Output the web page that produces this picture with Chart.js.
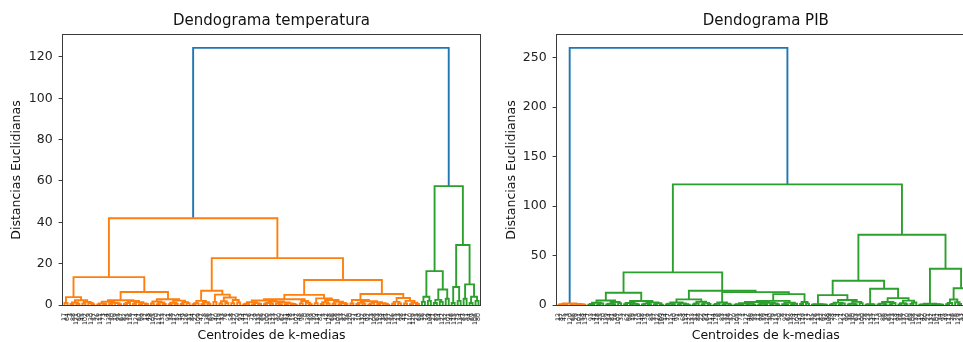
<!DOCTYPE html>
<html>
<head>
<meta charset="utf-8">
<title>Dendogramas</title>
<script src="https://cdn.jsdelivr.net/npm/chart.js@4.4.1/dist/chart.umd.min.js"></script>
<style>
  html, body { margin: 0; padding: 0; background: #fff; }
  body { width: 963px; height: 342px; position: relative; overflow: hidden; }
  canvas { position: absolute; top: 0; }
  #tempChart { left: 0; }
  #pibChart { left: 480px; }
</style>
</head>
<body>
<canvas id="tempChart" width="490" height="342"></canvas>
<canvas id="pibChart" width="520" height="342"></canvas>
<script>
// Each node is [height, left, right]; a leaf is the centroid index shown under the axis.

// --- Dendograma temperatura ---
const tempTopHeight = 124.4;
const tempOrangeHeight = 42;
const tempOrangeLeft = [13.5,
  [3.8, [1.0, 17, 64], [2.3, [1.2, [0.5, 3, 88], [0.6, 121, 60]], [1.5, [0.7, 45, 102], [1.0, 9, [0.4, 130, 57]]]]],
  [6.3,
    [2.3,
      [1.6, [0.8, [0.3, 26, 111], [0.5, 73, 4]], [1.1, [0.6, 138, 50], [0.9, 19, [0.4, 95, 67]]]],
      [1.9, [1.0, [0.5, 82, 35], 116], [1.3, [0.6, 7, 124], [0.8, [0.3, 61, 99], [0.5, 12, 43]]]]],
    [2.8,
      [1.7, [0.7, 28, 105], [1.2, [0.4, 70, 112], [0.5, 133, 2]]],
      [2.1, [1.1, [0.4, 91, 38], [0.6, 117, 55]], [1.4, [0.5, 14, 79], [0.9, 126, 31]]]]]];
const tempOrangeRight = [22.7,
  [6.9,
    [2.0, [0.9, [0.4, 84, 22], 109], [1.3, [0.5, 47, 8], [0.6, 136, 65]]],
    [5.0, [1.5, 97, 40], [3.6, [1.8, [0.7, 119, 33], [1.0, 76, 1]], [2.4, [0.9, 58, 127], [1.2, 20, 93]]]]],
  [12.1,
    [4.9,
      [2.8,
        [2.2, [1.4, [0.6, [0.3, 44, 113], 6], [0.9, [0.4, 71, 29], [0.5, 135, 86]]],
              [1.7, [1.0, [0.5, 52, 100], [0.6, 15, 123]], [1.2, [0.7, 37, [0.3, 90, 62]], [0.8, [0.4, 131, 24], [0.5, 78, [0.2, 11, 107]]]]]],
        [1.9, [0.8, 48, 96], [1.1, 0, [0.4, 139, 59]]]],
      [3.2, [0.9, 30, 114], [2.4, [1.3, [0.5, 81, 5], [0.7, 42, 128]], [1.6, [0.6, 66, 18], [1.0, [0.4, 103, 53], [0.5, 87, 36]]]]]],
    [5.3,
      [2.4, [0.7, 120, 27], [1.8, [1.1, [0.5, 74, 10], [0.6, 132, 49]], [1.4, [0.8, [0.3, 92, 23], 108], [0.9, [0.5, 63, 118], [0.6, 34, [0.2, 85, 137]]]]]],
      [3.4, [1.5, [0.6, 56, 125], [0.8, 13, 98]], [2.0, [0.7, 41, 77], [1.1, [0.4, 110, 129], [0.5, 25, 68]]]]]]];
const tempGreen = [57.5,
  [16.4, [4.0, [1.5, 16, 72], [2.0, 39, 104]], [7.5, [2.5, [1.0, 21, 89], [1.5, 54, 122]], [3.0, 32, 101]]],
  [29.0, [8.7, [1.0, 46, 115], [2.0, 75, 134]], [10.0, [3.0, 83, 51], [4.0, [1.0, 94, 69], [2.0, 106, 80]]]]];
const tempYTicks = [0, 20, 40, 60, 80, 100, 120];

// --- Dendograma PIB ---
const pibTopHeight = 260;
const pibGreenHeight = 122;
const pibOrange = [1.6, [0.8, [0.3, 12, 87], [0.5, 45, 3]], [1.1, [0.4, 120, 66], [0.7, [0.3, 29, 101], [0.2, 58, 134]]]];
const pibGreenLeft = [33,
  [12.4,
    [4.5, [2.2, [1.0, [0.4, 7, 93], 41], [1.5, [0.6, 118, 25], 70]], [3.1, [1.3, [0.5, 139, 54], [0.7, 81, 16]], [1.8, 107, 33]]],
    [4.0, [2.0, [0.9, 2, 62], [1.2, [0.5, 96, 19], [0.6, 75, 110]]], [2.7, [1.4, [0.6, 48, 131], [0.8, 9, 85]], [1.7, [0.7, 37, 122], [0.4, 60, 103]]]]],
  [14.4,
    [5.7,
      [2.6, [1.2, [0.5, 14, 77], [0.7, 125, 40]], [1.6, [0.6, 91, 5], [0.9, 68, [0.3, 114, 27]]]],
      [3.3, [1.5, [0.5, 133, 51], 88], [2.1, [0.8, 22, 99], [1.0, 64, 117]]]],
    [13.0,
      [2.5, [1.1, [0.4, 44, 128], 6], [1.4, [0.6, 83, 31], [0.5, 136, 57]]],
      [11.0,
        [4.2,
          [3.0, [1.8, [0.9, [0.4, 20, 105], [0.5, 73, 1]], [1.1, [0.6, 127, 46], [0.3, 89, 35]]],
                [2.3, [1.2, [0.5, 11, 98], [0.7, 59, 124]], [1.5, [0.8, 30, 79], [0.6, 115, 50]]]],
          [2.2, [0.9, 8, [0.4, 92, 67]], [1.3, [0.5, 138, 24], 104]]],
        [3.0, [1.0, 43, 119], [1.4, 71, 17]]]]]];
const pibGreenRight = [71,
  [24.5,
    [10.0,
      [0.9, [0.4, 55, 126], [0.6, [0.2, 13, 82], [0.3, 97, 38]]],
      [5.0, [2.4, [1.1, [0.4, 109, 28], 74], [1.5, [0.6, 4, 121], 52]], [3.2, [1.3, [0.5, 90, 36], [0.7, 130, 63]], [1.9, 15, 100]]]],
    [16.4,
      [0.8, [0.3, 78, 23], [0.5, 135, 47]],
      [7.0, [3.1, [1.4, [0.5, 113, 0], [0.7, 86, 39]], [2.0, [0.8, 65, 123], 18]], [4.4, [1.8, [0.6, 94, 56], [0.9, 137, 10]], [2.6, [1.1, 69, 108], 32]]]]],
  [36.6,
    [1.2, [0.5, [0.2, 116, 42], [0.3, 80, 21]], [0.8, [0.4, 132, 61], [0.6, 102, [0.2, 34, 95]]]],
    [17.0, [5.5, [2.0, [0.8, 49, 111], 26], [2.8, 76, [1.0, 129, 53]]], [8.0, [3.0, 84, 112], [4.2, 72, 106]]]]];
const pibYTicks = [0, 50, 100, 150, 200, 250];

const topColor = '#1f77b4';
const clusterColors = ['#ff7f0e', '#2ca02c'];

Chart.defaults.font.family = "'DejaVu Sans', sans-serif";
Chart.defaults.color = '#222';

// places leaves 10 units apart like scipy does and collects the U-shaped links
function layoutTree(node, color, out) {
  if (!Array.isArray(node)) {
    const x = 5 + 10 * out.labels.length;
    out.labels.push(String(node));
    out.ticks.push(x);
    return { x: x, y: 0 };
  }
  const left = layoutTree(node[1], color, out);
  const right = layoutTree(node[2], color, out);
  const h = node[0];
  out.links.push({
    color: color,
    points: [{ x: left.x, y: left.y }, { x: left.x, y: h }, { x: right.x, y: h }, { x: right.x, y: right.y }]
  });
  return { x: (left.x + right.x) / 2, y: h };
}

function buildDendrogram(topHeight, firstCluster, secondCluster) {
  const out = { labels: [], ticks: [], links: [] };
  const a = layoutTree(firstCluster, clusterColors[0], out);
  const b = layoutTree(secondCluster, clusterColors[1], out);
  out.links.push({
    color: topColor,
    points: [{ x: a.x, y: a.y }, { x: a.x, y: topHeight }, { x: b.x, y: topHeight }, { x: b.x, y: b.y }]
  });
  return out;
}

// matplotlib draws a box round the axes
const framePlugin = {
  id: 'frame',
  afterDatasetsDraw(chart) {
    const { ctx, chartArea } = chart;
    ctx.save();
    ctx.strokeStyle = '#3a3a3a';
    ctx.lineWidth = 1;
    ctx.strokeRect(chartArea.left - 0.5, chartArea.top - 0.5,
      chartArea.right - chartArea.left + 1, chartArea.bottom - chartArea.top + 1);
    ctx.restore();
  }
};

function makeChart(id, dendro, cfg) {
  const datasets = dendro.links.map(link => ({
    data: link.points,
    borderColor: link.color,
    borderWidth: 1.9,
    showLine: true,
    pointRadius: 0,
    pointHoverRadius: 0,
    fill: false,
    tension: 0
  }));

  return new Chart(document.getElementById(id), {
    type: 'scatter',
    data: { datasets },
    plugins: [framePlugin],
    options: {
      responsive: false,
      animation: false,
      events: [],
      layout: { padding: { left: 0, right: cfg.padRight, top: 0, bottom: 0 } },
      plugins: {
        legend: { display: false },
        tooltip: { enabled: false },
        title: {
          display: true,
          text: cfg.title,
          fullSize: false,
          color: '#111',
          font: { size: 15, weight: 'normal', lineHeight: 1.2 },
          padding: { top: 12, bottom: 5 }
        }
      },
      scales: {
        x: {
          type: 'linear',
          min: 0,
          max: 10 * dendro.labels.length,
          grid: { display: false, drawTicks: false },
          border: { display: false },
          afterBuildTicks: scale => { scale.ticks = dendro.ticks.map(v => ({ value: v })); },
          afterFit: scale => {
            scale.height = 37;
            scale.paddingLeft = 0;
            scale.paddingRight = 0;
          },
          ticks: {
            autoSkip: false,
            minRotation: 90,
            maxRotation: 90,
            padding: 8,
            color: '#222',
            font: { size: 6.25 },
            callback: (value, index) => dendro.labels[index]
          },
          title: {
            display: true,
            text: 'Centroides de k-medias',
            color: '#111',
            font: { size: 12.5, lineHeight: 1 },
            padding: { top: 0, bottom: 0 }
          }
        },
        y: {
          type: 'linear',
          min: 0,
          max: cfg.topHeight * 1.05,
          border: { display: false },
          grid: { drawOnChartArea: false, drawTicks: true, tickLength: 4.4, color: '#3a3a3a' },
          afterBuildTicks: scale => { scale.ticks = cfg.yTicks.map(v => ({ value: v })); },
          afterFit: scale => { scale.width = cfg.axisLeft; },
          ticks: { padding: 6, color: '#222', font: { size: 12.5 } },
          title: {
            display: true,
            text: 'Distancias Euclidianas',
            color: '#111',
            font: { size: 12.5, lineHeight: 1 },
            padding: { top: cfg.yTitlePad, bottom: 0 }
          }
        }
      }
    }
  });
}

const tempDendro = buildDendrogram(tempTopHeight, [tempOrangeHeight, tempOrangeLeft, tempOrangeRight], tempGreen);
const pibDendro = buildDendrogram(pibTopHeight, pibOrange, [pibGreenHeight, pibGreenLeft, pibGreenRight]);

makeChart('tempChart', tempDendro, {
  title: 'Dendograma temperatura',
  topHeight: tempTopHeight,
  yTicks: tempYTicks,
  axisLeft: 63,
  padRight: 10,
  yTitlePad: 10
});

makeChart('pibChart', pibDendro, {
  title: 'Dendograma PIB',
  topHeight: pibTopHeight,
  yTicks: pibYTicks,
  axisLeft: 77,
  padRight: 25.5,
  yTitlePad: 25
});
</script>
</body>
</html>
